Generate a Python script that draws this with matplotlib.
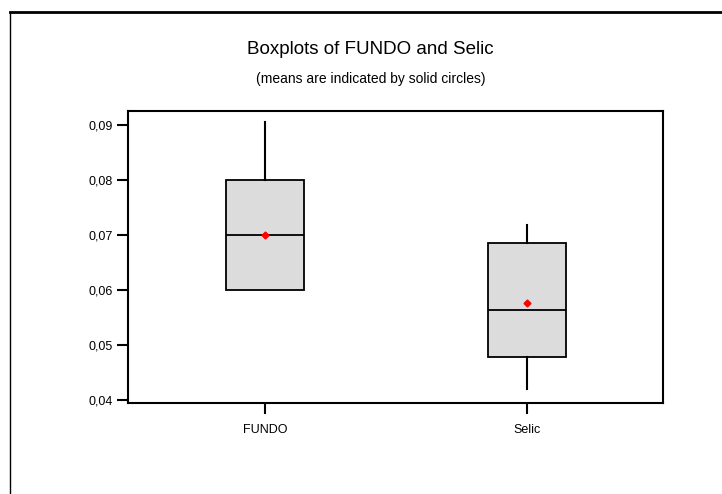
import matplotlib.pyplot as plt
from matplotlib.lines import Line2D
from matplotlib.ticker import FuncFormatter

plt.rcParams['font.family'] = ['Liberation Sans', 'DejaVu Sans']

labels = ["FUNDO", "Selic"]
whislo = [0.0600, 0.0419]
q1 = [0.0600, 0.0477]
med = [0.0700, 0.0563]
q3 = [0.0800, 0.0685]
whishi = [0.0904, 0.0718]
means = [0.0700, 0.0576]

stats = []
for i in range(len(labels)):
    stats.append({
        "label": labels[i],
        "whislo": whislo[i],
        "q1": q1[i],
        "med": med[i],
        "q3": q3[i],
        "whishi": whishi[i],
        "mean": means[i],
        "fliers": [],
    })

fig = plt.figure(figsize=(7.22, 4.94), dpi=100)
ax = fig.add_axes([0.1773, 0.1842, 0.7410, 0.5901])

ax.bxp(stats, positions=[1, 2], widths=0.3, patch_artist=True, showmeans=True,
       showcaps=False,
       boxprops=dict(facecolor="#dcdcdc", edgecolor="black", linewidth=1.3),
       medianprops=dict(color="black", linewidth=1.3),
       whiskerprops=dict(color="black", linewidth=1.5),
       meanprops=dict(marker="D", markerfacecolor="red", markeredgecolor="red",
                      markersize=3.5))

ax.set_xlim(0.477, 2.52)
ax.set_ylim(0.0394, 0.0924)
ax.set_yticks([0.04, 0.05, 0.06, 0.07, 0.08, 0.09])
ax.yaxis.set_major_formatter(FuncFormatter(lambda v, p: f"{v:.2f}".replace(".", ",")))
ax.tick_params(axis="both", direction="out", length=8, width=1.5, labelsize=9, pad=3)
ax.tick_params(axis="x", pad=7)
for s in ax.spines.values():
    s.set_linewidth(1.5)

fig.text(0.513, 0.900, "Boxplots of FUNDO and Selic", ha="center", va="center", fontsize=13.5)
fig.text(0.513, 0.840, "(means are indicated by solid circles)", ha="center", va="center", fontsize=10)

# outer frame
fig.add_artist(Line2D([10 / 722, 1], [1 - 12 / 494, 1 - 12 / 494], color="black", linewidth=2,
                      transform=fig.transFigure))
fig.add_artist(Line2D([10 / 722, 10 / 722], [0, 1 - 12 / 494], color="black", linewidth=1.0,
                      transform=fig.transFigure))

fig.savefig("out.png", dpi=100)
